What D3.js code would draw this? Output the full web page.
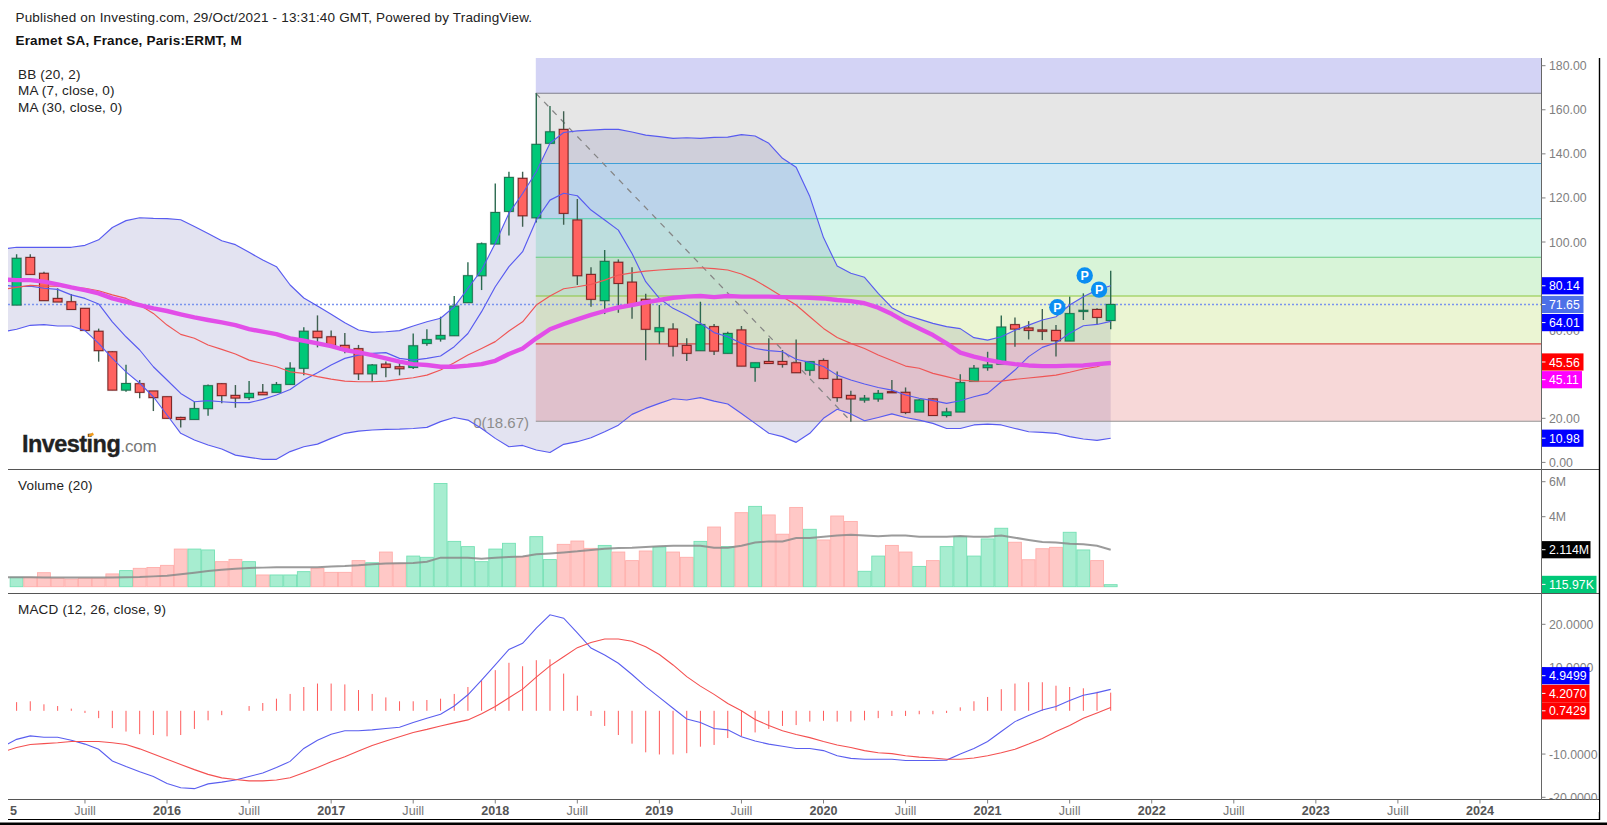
<!DOCTYPE html>
<html><head><meta charset="utf-8">
<style>html,body{margin:0;padding:0;background:#fff;overflow:hidden}svg{display:block}text{font-family:"Liberation Sans",Arial,sans-serif}</style>
<script src="https://cdnjs.cloudflare.com/ajax/libs/d3/7.8.5/d3.min.js"></script>
</head><body><svg id="c" width="1607" height="825"></svg>
<script>
// ---------- data (monthly, index 0 = Feb 2015) ----------
const openV=[71.4,93,85.8,74.4,72.9,69.9,59.5,50.2,32.8,35.7,32.4,29.8,20.4,19.5,24.4,35.7,30.4,29.4,31.8,31.8,35.4,42.7,59.5,57,53.1,51.6,40.2,44.6,43.4,43.1,54,56,57.5,72.5,84.7,99.1,113.9,128.9,111,144.8,151.1,110,85.3,73.4,90.8,81.8,74,59.3,60.5,53.1,50.7,61.6,49.5,60.1,43.1,45.8,45.8,45.2,41.8,46.2,37.7,30.4,28.3,28.8,32.1,31.8,22.9,28.8,21.3,22.9,36.8,43,44.6,62.5,61,60.1,59.9,55.1,68.5,69.4,64.4];
const closeV=[92.6,85.3,73.4,72.8,69.4,59.9,50.7,32.8,35.8,31.8,29.4,20,19.5,24.4,34.8,30.3,29.2,31.3,30.7,35.3,42.7,59.5,56.6,53.1,51.1,40.2,44.2,43.1,42.5,52.9,55.7,57.6,70.9,84.7,99.2,113.4,129.3,111.9,144.3,150,113,84.7,74,91.2,81.2,71.4,60.4,61.1,52.7,49.5,62.5,50.5,58.5,43.7,45.2,44.9,44.5,40.7,45.7,38.1,29.4,28.8,29.1,31.3,31.6,22.7,28.3,21.3,22.9,36.2,42.7,44.2,61.4,60.5,59.9,59.5,55.2,67.5,69,65.8,71.65];
const highV=[94.5,94.4,86.5,79,76.4,70,60.7,50.5,44.3,37.4,32.4,29.8,20.7,27.5,35.4,35.9,35.1,36.9,35.6,36.5,45.4,61.3,66.7,59.8,58.7,53.3,44.6,45.8,45.7,58.5,60.4,66.1,75.5,90.8,99.8,126.6,131.9,131.9,167.5,161.7,159.3,119.5,88.5,96.4,92.1,88.5,76.5,71.4,63.1,56.3,72.9,62.8,59.3,61.9,45.2,56.3,51,55.8,45.7,47.2,41.2,32.5,30.6,32.8,37.4,34,28.6,29.1,24.8,40,44.2,50.2,66.7,65.8,64.1,69.6,62.3,75.2,76.7,69.9,87];
const lowV=[71.4,85.3,73.4,72.8,69.4,59.9,45.7,32.8,32.1,29.1,23.3,20,15.8,19.5,21.2,26.8,24.8,28.3,30.7,31.8,35.4,39.6,52.2,53.1,49.5,37.4,36.6,38.6,39.5,42.4,52.9,54.8,57.5,72.5,78.2,99.1,102.9,106.9,108.9,144.8,107.8,80.5,70.6,67.3,67.9,65.2,46.4,53.7,48,46,50.7,48.7,49.5,43.7,36.6,44.9,43,40.7,39.3,37.7,27.5,18.5,27.1,27.5,31.6,21.9,22.9,21.3,20.4,22.9,36.8,41.6,44.6,52.5,55.8,55.5,48,55.1,64.6,62.3,60.4];
// indicator series start one month earlier (index -1)
const bbUpper=[96.8,97.6,97.6,97.6,97.6,97.6,98.5,101,106.6,109.7,111,110.7,110.6,110.1,107,103.9,100.6,98.8,95.3,91.8,88.8,80.5,74.6,71,67.2,63.4,60.1,59,59.3,59.8,61.9,63.8,65.4,70.6,79,87.3,99.4,113,122,131.9,144.8,149.7,150.4,150.8,151.1,151.1,149.9,148.5,147.8,147,147.3,147,147.5,147.6,148.7,148.1,144.8,138,133.9,120.6,102,89.1,85.8,84,76.7,70.2,66.9,65,63.1,61.6,60.7,56.6,55.5,57,60,62.3,64.6,66.1,71.4,75.2,78.2,80.14];
const bbLower=[59.3,60.4,62.2,62.5,61.9,61.9,59.8,54,47.2,41.1,35.9,29.8,21.5,13.2,10.2,7.9,6.1,3.3,2.3,1.4,1.4,4.9,7.1,8.3,10.9,13.2,14.2,14.7,15,15.1,15.4,15.9,18.5,20.4,19.2,15.4,10.9,7.1,7.7,5.6,4.5,8.2,9.4,11.2,13.9,16.9,21.8,24.5,26.8,28.9,28.3,29.4,27.8,26.5,22.2,17.7,13.2,11.7,9.1,13.2,20,24.1,22,18.9,20.4,22,20.4,19.2,17.7,15.4,15.4,17,17.4,17,15.4,13.9,13.6,13.2,11.7,10.6,10,10.98];
const bbBasis=[78.5,79.4,80.3,80,80,79.4,79,77.9,76,74.4,71.4,67.6,62.3,58.1,56.3,53.3,51.3,49.2,46.4,44.9,43.4,41.1,40.4,38.9,37.8,36.9,36.6,36.6,36.9,37.7,38.4,39.6,41.9,45.2,48.7,51.7,54.8,59.6,63.8,71.4,75.5,78.8,79.7,80.8,82.7,85,86,86.8,87.3,87.7,88,88.3,87.9,87.3,85.5,82.7,79,75.2,71.4,66.1,60.8,56.7,54,51.7,48.7,46.2,43.7,42.7,40.4,38.9,37.4,36.9,36.8,36.9,37.7,38.3,38.9,39.6,40.9,42.4,43.4,45.56];
const ma7=[80.5,79.7,80,79,78.5,76,74.4,71.9,63.8,57,51,43.4,37.4,31.3,27.5,28,27.5,27.1,27.1,28.6,30.6,33.1,37.4,40.7,44.2,47.2,48.7,49.5,49.8,47.2,46.4,47.2,48.3,52.5,58.5,68.4,79.7,88.8,95.6,110,119,122.1,121,114.5,110,105.4,94.8,82,74.4,69.9,66.9,63.1,58.9,57,54,51.7,50.7,50.2,46.8,45.4,43.5,39.6,37.4,35.6,34,32.8,30.6,29.1,28,26.8,28,29.8,31.3,36.6,41.9,48,52.2,54.3,58.6,62,62.6,64.01];
const ma30=[83,82.7,82.7,82,80.8,79.4,78.2,76.7,74.4,72.9,71.4,69.9,68.7,67.2,65.8,64.6,63.5,62.3,60.5,59.3,58.2,56.3,55.2,54,52.8,51,49.9,48.7,47.2,45.7,44.6,44.2,43.4,43.4,43.9,44.6,46.1,49.2,51.7,56.3,60.4,62.8,64.9,66.9,68.7,70.3,71.4,72.6,73.7,74.7,75.2,75.5,75,75.5,75.2,75.2,75.2,75,74.9,74.7,74.4,73.7,73.2,72.2,70.2,67.3,63.8,60.8,57.8,54,49.8,48,46.5,45.4,44.6,44,43.7,43.7,43.9,44,44.6,45.11];
const volumeM=[.54,.54,.8,.48,.44,.48,.48,.73,.92,1.05,1.1,1.22,2.15,2.15,2.1,1.43,1.56,1.43,.67,.67,.67,.86,1.05,.82,.82,1.49,1.37,1.98,1.34,1.75,1.68,5.9,2.59,2.29,1.43,2.15,2.48,1.72,2.86,1.55,2.42,2.61,2.19,2.36,1.98,1.49,2.04,2.27,1.98,1.68,2.59,3.41,2.29,4.23,4.59,4.1,3,4.53,3.28,2.67,4.04,3.73,.88,1.75,2.36,1.98,1.16,1.49,2.29,2.86,1.75,2.73,3.34,2.54,1.54,2.17,2.25,3.11,2.1,1.49,.116];
const volMaM=[.54,.54,.54,.52,.52,.52,.52,.52,.52,.54,.55,.59,.63,.71,.8,.9,.97,1.03,1.07,1.09,1.11,1.11,1.11,1.11,1.16,1.18,1.22,1.28,1.32,1.34,1.35,1.43,1.66,1.66,1.66,1.6,1.66,1.7,1.73,1.85,1.9,1.96,2.02,2.1,2.17,2.21,2.23,2.27,2.31,2.34,2.34,2.34,2.23,2.23,2.34,2.52,2.59,2.59,2.78,2.78,2.86,2.93,2.97,2.93,2.88,2.92,2.92,2.86,2.86,2.86,2.9,2.86,2.86,2.92,2.8,2.67,2.55,2.53,2.46,2.42,2.34,2.114];
const macdLine=[-8.3,-6.6,-5.8,-6.1,-6.1,-6.8,-7.7,-8.9,-11.6,-12.9,-14.1,-15.2,-16.8,-17.8,-18,-16.9,-16.5,-16,-15.2,-14.4,-13.1,-11.7,-8.7,-6.8,-5.4,-4.6,-4.6,-4.4,-4.1,-3.8,-2.7,-1.7,-.8,1.1,3.7,7.1,10.6,14.2,15.6,19.1,22.2,21.4,18,14.5,12.9,11,8.4,5.6,3.1,.6,-1.9,-2.7,-4.1,-4.4,-6,-7,-7.7,-8.2,-8.7,-8.7,-9.2,-10.4,-11,-11.2,-11.2,-11.2,-11.5,-11.5,-11.5,-11.4,-10,-8.7,-7.1,-4.8,-2.5,-1.1,.2,1,2.4,3.6,4.2,4.95];
const signalLine=[-9.5,-8.5,-7.8,-7.6,-7.4,-7.1,-7.1,-7.1,-7.4,-7.8,-8.8,-10,-11.2,-12.4,-13.6,-14.7,-15.5,-15.9,-16.2,-16.2,-16,-15.5,-14.3,-13.1,-11.8,-10.6,-9.3,-8,-7,-6,-5,-4.3,-3.5,-2.8,-2.1,-.7,1,3,5,7.8,10.4,12.5,14.6,15.8,16.6,16.6,16.1,14.8,13,10.6,7.9,5.7,3.8,1.7,0,-2,-3.4,-4.6,-5.5,-6.2,-7.1,-7.9,-8.5,-9.2,-9.7,-9.9,-10.4,-10.7,-10.9,-11.2,-11.2,-10.9,-10.4,-9.7,-8.9,-7.7,-6.4,-4.8,-3.4,-1.7,-.5,.74];
const macdHist=[2,2.2,1.5,1.1,.5,-.5,-1.7,-4,-4.8,-5.4,-5.6,-5.9,-5.6,-4.2,-2.2,-1,0,1.1,1.8,2.8,3.9,5.5,6.3,6.3,6.1,4.8,3.9,3.1,2.2,2.2,2.5,2.8,3.9,5.5,7,9.4,11.1,10.3,11.7,11.9,8.6,3.5,-1.2,-3.5,-5.6,-7.6,-9.6,-10.1,-10.1,-9.8,-8.3,-7.9,-6.3,-5.9,-5,-4.2,-3.5,-3.3,-2.5,-2.3,-2.5,-2.5,-2.2,-1.7,-1.2,-1.2,-.8,-.8,-.5,.8,2.2,3.2,5,6.3,6.6,6.6,5.8,5.5,5.2,4.4,4.2];
const fibLevels=[18.67,53.8,75.5,93.1,110.6,135.6,167.5];
const priceTicks=[180,160,140,120,100,60,20,0];
const volumeTicks=[6,4];
const macdTicks=[20,10,-10,-20];
const timeTickIdx=[5,11,17,23,29,35,41,47,53,59,65,71,77,83,89,95,101,107,113];
const timeTickLbl=["Juill","2016","Juill","2017","Juill","2018","Juill","2019","Juill","2020","Juill","2021","Juill","2022","Juill","2023","Juill","2024","Juill"];
const axisStubLabel="5";
const ideaIdx=[76.1,78.1,79.15], ideaVal=[70.4,84.8,78.4];
const legendMain=["BB (20, 2)","MA (7, close, 0)","MA (30, close, 0)"];

// ---------- layout ----------
const L=8,R=1541.5;
const svg=d3.select("#c");
const x=d3.scaleLinear().domain([0,80]).range([16.6,1110.7]);
const y=d3.scaleLinear().domain([0,180]).range([462.4,65.7]);
const yV=d3.scaleLinear().domain([0,6]).range([586.7,481.7]);
const yM=d3.scaleLinear().domain([-20,20]).range([797.3,624.3]);
const defs=svg.append("defs");
defs.append("clipPath").attr("id","cm").append("rect").attr("x",L).attr("y",58).attr("width",R-L).attr("height",411);
defs.append("clipPath").attr("id","cv").append("rect").attr("x",L).attr("y",470).attr("width",R-L).attr("height",123);
defs.append("clipPath").attr("id","cd").append("rect").attr("x",L).attr("y",594).attr("width",R-L).attr("height",205);
const gm=svg.append("g").attr("clip-path","url(#cm)");
const gv=svg.append("g").attr("clip-path","url(#cv)");
const gd=svg.append("g").attr("clip-path","url(#cd)");
const lineOf=(s,sc)=>d3.line().x((d,i)=>x(i-1)).y(d=>sc(d))(s);

// Bollinger band fill
gm.append("path").attr("fill","rgba(40,40,150,0.13)")
  .attr("d",d3.area().x((d,i)=>x(i-1)).y0((d,i)=>y(bbLower[i])).y1(d=>y(d))(bbUpper));

// Fibonacci zones
const fibFill=["rgba(215,60,60,0.2)","rgba(155,205,35,0.2)","rgba(60,200,60,0.2)","rgba(38,205,150,0.2)","rgba(30,150,212,0.2)","rgba(128,128,128,0.2)","rgba(35,35,205,0.2)"];
const fibLine=["#959595","#d94a44","#8cc63c","#66cc80","#66d0b8","#3fa0d8","#7f7f8c"];
const xFib=x(38)-0.5;
const fibEdges=[...fibLevels,182];
fibFill.forEach((c,i)=>gm.append("rect").attr("x",xFib).attr("width",R-xFib)
  .attr("y",y(fibEdges[i+1])-(i==6?4:0)).attr("height",y(fibEdges[i])-y(fibEdges[i+1])+(i==6?4:0)).attr("fill",c));
fibLevels.forEach((v,i)=>gm.append("line").attr("x1",xFib).attr("x2",R).attr("y1",y(v)).attr("y2",y(v)).attr("stroke",fibLine[i]).attr("stroke-width",1.1));
gm.append("line").attr("x1",xFib).attr("y1",y(fibLevels[6])).attr("x2",x(61)).attr("y2",y(fibLevels[0]))
  .attr("stroke","#858585").attr("stroke-width",1.25).attr("stroke-dasharray","6 6");
gm.append("text").attr("x",529).attr("y",428).attr("text-anchor","end").attr("font-size",15).attr("fill","#8c8c8c").text("0(18.67)");

// last price line
gm.append("line").attr("x1",L).attr("x2",R).attr("y1",y(71.65)).attr("y2",y(71.65)).attr("stroke","#7a94ee").attr("stroke-width",1.4).attr("stroke-dasharray","2 2");

// candles
const wickCol=(i)=>closeV[i]>=openV[i]?"#2c6a50":"#3f5f50";
gm.selectAll("line.wick").data(highV).join("line").attr("class","wick")
  .attr("x1",(d,i)=>x(i)).attr("x2",(d,i)=>x(i)).attr("y1",d=>y(d)).attr("y2",(d,i)=>y(lowV[i]))
  .attr("stroke",(d,i)=>wickCol(i)).attr("stroke-width",1.4);
gm.selectAll("rect.halo").data(openV).join("rect").attr("class","halo")
  .attr("x",(d,i)=>x(i)-5.4).attr("width",10.8)
  .attr("y",(d,i)=>y(Math.max(d,closeV[i]))-1).attr("height",(d,i)=>Math.max(1,Math.abs(y(d)-y(closeV[i])))+2)
  .attr("fill","rgba(90,90,90,.28)");
gm.selectAll("rect.body").data(openV).join("rect").attr("class","body")
  .attr("x",(d,i)=>x(i)-4.4).attr("width",8.8)
  .attr("y",(d,i)=>y(Math.max(d,closeV[i]))).attr("height",(d,i)=>Math.max(0.8,Math.abs(y(d)-y(closeV[i]))))
  .attr("fill",(d,i)=>closeV[i]>=d?"#00c878":"#ff6360")
  .attr("stroke",(d,i)=>closeV[i]>=d?"#17754f":"#7c2020").attr("stroke-width",1);

// indicator lines
const lines=[[bbUpper,"#585bf0",1.15],[bbLower,"#585bf0",1.15],[ma7,"#585bf0",1.15],[bbBasis,"#ef5555",1.15],[ma30,"#e24ee8",4.4]];
lines.forEach(([s,c,w])=>gm.append("path").attr("d",lineOf(s,y)).attr("fill","none").attr("stroke",c).attr("stroke-width",w).attr("stroke-linejoin","round"));

// idea markers
ideaIdx.forEach((v,i)=>{
  gm.append("circle").attr("cx",x(v)).attr("cy",y(ideaVal[i])).attr("r",8.2).attr("fill","#0a8ef2");
  gm.append("text").attr("x",x(v)).attr("y",y(ideaVal[i])+4.6).attr("text-anchor","middle").attr("font-size",12.5).attr("font-weight",700).attr("fill","#fff").text("P");
});

// volume
const bw=x(1)-x(0);
gv.selectAll("rect").data(volumeM).join("rect")
  .attr("x",(d,i)=>x(i)-bw/2+.4).attr("width",bw-.8).attr("y",d=>yV(d)).attr("height",d=>yV(0)-yV(d))
  .attr("fill",(d,i)=>closeV[i]>=openV[i]?"#a7edd0":"#ffc8c6")
  .attr("stroke",(d,i)=>closeV[i]>=openV[i]?"#74e0b4":"#ffadaa").attr("stroke-width",.9);
gv.append("path").attr("d",lineOf(volMaM,yV)).attr("fill","none").attr("stroke","#8a8a8a").attr("stroke-opacity",.85).attr("stroke-width",2);

// MACD
gd.selectAll("line").data(macdHist).join("line")
  .attr("x1",(d,i)=>x(i)).attr("x2",(d,i)=>x(i)).attr("y1",yM(0)).attr("y2",d=>yM(d))
  .attr("stroke","#ff5b5b").attr("stroke-width",1);
gd.append("path").attr("d",lineOf(macdLine,yM)).attr("fill","none").attr("stroke","#5a5eef").attr("stroke-width",1.1);
gd.append("path").attr("d",lineOf(signalLine,yM)).attr("fill","none").attr("stroke","#f45050").attr("stroke-width",1.1);

// axes: separators
[[469.5],[593.5],[799.5]].forEach(([yy])=>svg.append("line").attr("x1",L).attr("x2",1599).attr("y1",yy).attr("y2",yy).attr("stroke","#555").attr("stroke-width",1));
svg.append("line").attr("x1",R).attr("x2",R).attr("y1",58).attr("y2",800).attr("stroke","#666").attr("stroke-width",1);
svg.append("line").attr("x1",1599.5).attr("x2",1599.5).attr("y1",58).attr("y2",820).attr("stroke","#000").attr("stroke-width",1.4);
svg.append("line").attr("x1",L).attr("x2",1600).attr("y1",819.5).attr("y2",819.5).attr("stroke","#000").attr("stroke-width",1);
svg.append("rect").attr("x",0).attr("y",822.5).attr("width",1607).attr("height",3).attr("fill","#000");

const tCol="#808080", axisFs=12.3;
const tick=(yy,lbl)=>{
  svg.append("line").attr("x1",R).attr("x2",R+4).attr("y1",yy).attr("y2",yy).attr("stroke",tCol);
  svg.append("text").attr("x",1549).attr("y",yy+4.5).attr("font-size",axisFs).attr("fill",tCol).text(lbl);
};
priceTicks.forEach(v=>tick(y(v),v.toFixed(2)));
volumeTicks.forEach(v=>tick(yV(v),v+"M"));
macdTicks.forEach(v=>tick(yM(v),v.toFixed(4)));
// the lowest tick label is cut by the pane's end
svg.append("rect").attr("x",1543).attr("y",800).attr("width",56).attr("height",12).attr("fill","#fff");

// value badges
const badge=(cy,w,bg,lbl)=>{
  svg.append("rect").attr("x",R+.5).attr("y",cy-8.6).attr("width",w).attr("height",17.2).attr("fill",bg);
  svg.append("line").attr("x1",R+.5).attr("x2",R+4).attr("y1",cy).attr("y2",cy).attr("stroke","#fff");
  svg.append("text").attr("x",1549).attr("y",cy+4.6).attr("font-size",axisFs).attr("fill","#fff").text(lbl);
};
badge(y(71.65),41.5,"#4d70e8","71.65");
badge(y(80.14),41.5,"#0000ff","80.14");
badge(322.6,41.5,"#0000ff","64.01");
badge(y(45.56),41.5,"#ff0000","45.56");
badge(379.7,40,"#ff00ff","45.11");
badge(y(10.98),41.5,"#0000ff","10.98");
badge(yV(2.114),48.5,"#000000","2.114M");
badge(584.4,54.5,"#00c878","115.97K");
badge(675.7,47.5,"#0000ff","4.9499");
badge(693.4,47.5,"#ff0000","4.2070");
badge(710.8,47.5,"#ff0000","0.7429");

// time axis
const xg=svg.append("g");
xg.append("text").attr("x",13.4).attr("y",815).attr("text-anchor","middle").attr("font-size",12.6).attr("font-weight",700).attr("fill","#555").text(axisStubLabel);
timeTickIdx.forEach((t,i)=>{
  const px=x(t);
  if(px>R) return;
  xg.append("line").attr("x1",px).attr("x2",px).attr("y1",800).attr("y2",803.5).attr("stroke",tCol);
  xg.append("text").attr("x",px).attr("y",815).attr("text-anchor","middle").attr("font-size",12.6)
    .attr("font-weight",timeTickLbl[i]==="Juill"?400:700).attr("fill",timeTickLbl[i]==="Juill"?"#777":"#555").text(timeTickLbl[i]);
});

// headers & legends
const label=(tx,ty,s,w)=>svg.append("text").attr("x",tx).attr("y",ty).attr("font-size",13.5).attr("letter-spacing",.18).attr("font-weight",w||400).attr("fill",w?"#111":"#222").text(s);
label(15.5,22,"Published on Investing.com, 29/Oct/2021 - 13:31:40 GMT, Powered by TradingView.");
label(15.5,45,"Eramet SA, France, Paris:ERMT, M",700);
legendMain.forEach((s,i)=>label(18,78.5+i*16.8,s));
label(18,490,"Volume (20)");
label(18,613.5,"MACD (12, 26, close, 9)");

// brand
svg.append("text").attr("x",22).attr("y",451.7).attr("font-size",23.5).attr("font-weight",700).attr("letter-spacing",-.55).attr("fill","#222").attr("stroke","#222").attr("stroke-width",.35).text("Investing");
svg.append("text").attr("x",120.5).attr("y",451.7).attr("font-size",17).attr("fill","#777").attr("letter-spacing",-.2).text(".com");
svg.append("rect").attr("x",88.5).attr("y",433.5).attr("width",5).attr("height",2.6).attr("fill","#f09a1c").attr("transform","rotate(-25 91 434.5)");
</script></body></html>
